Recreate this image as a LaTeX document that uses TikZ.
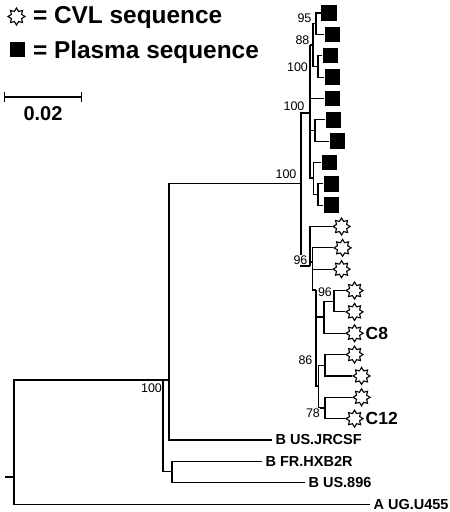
\documentclass[tikz,border=0pt]{standalone}
\usepackage{fontspec}
\setmainfont{Liberation Sans}
\usetikzlibrary{shapes.geometric}

\begin{document}
\begin{tikzpicture}[x=1pt, y=-1pt, line width=1.1pt,
	plasma/.style={fill=black, minimum size=15.5pt, inner sep=0pt, anchor=west},
	cvl/.style={star, star points=8, star point ratio=1.55, draw=black, fill=white, line width=1.1pt, minimum size=17pt, inner sep=0pt, anchor=west},
	taxon/.style={anchor=west, inner sep=3pt, font=\fontsize{14.5}{14.5}\selectfont\bfseries},
	clone/.style={anchor=west, inner sep=1pt, font=\fontsize{17.5}{17.5}\selectfont\bfseries},
	key/.style={anchor=base west, inner sep=0pt, font=\fontsize{24.4}{24.4}\selectfont\bfseries},
	boot/.style={anchor=east, inner sep=0.5pt, fill=white, font=\fontsize{12.5}{12.5}\selectfont}]
	\useasboundingbox (0,0) rectangle (450,512);

	% key and scale
	\node[cvl, anchor=center] (keystar) at (16.5, 16.5) {};
	\node[plasma, anchor=center] (keysquare) at (17.5, 49.5) {};
	\node[key] (keycvl) at (32.5, 23.3) {= CVL sequence};
	\node[key] (keyplasma) at (32.5, 58.3) {= Plasma sequence};
	\coordinate (sbl) at (4, 97);
	\coordinate (sbr) at (82, 97);
	\draw[|-|, line width=1.3pt] (sbl) -- (sbr);
	\node[font=\fontsize{20}{20}\selectfont\bfseries] (sblab) at (43, 113.5) {0.02};

	% plasma sequences
	\node[plasma] (p1)  at (320.5, 13.0)  {};
	\node[plasma] (p2)  at (324, 34.35)  {};
	\node[plasma] (p3)  at (322, 55.7)   {};
	\node[plasma] (p4)  at (324, 77.05)  {};
	\node[plasma] (p5)  at (324, 98.4)   {};
	\node[plasma] (p6)  at (325, 119.75) {};
	\node[plasma] (p7)  at (329, 141.1)  {};
	\node[plasma] (p8)  at (321, 162.45) {};
	\node[plasma] (p9)  at (323, 183.8)  {};
	\node[plasma] (p10) at (323, 205.15) {};

	% CVL sequences
	\node[cvl] (c11) at (332, 226.5)  {};
	\node[cvl] (c12) at (333, 247.85) {};
	\node[cvl] (c13) at (332, 269.2)  {};
	\node[cvl] (c14) at (345, 290.55) {};
	\node[cvl] (c15) at (345, 311.9)  {};
	\node[cvl] (c16) at (345, 333.25) {};
	\node[cvl] (c17) at (345, 354.6)  {};
	\node[cvl] (c18) at (352, 375.95) {};
	\node[cvl] (c19) at (352, 397.3)  {};
	\node[cvl] (c20) at (345, 418.65) {};
	\node[clone] (c8)  at (c16.east) {C8};
	\node[clone] (c12lab) at (c20.east) {C12};

	% reference strains
	\node[taxon] (jrcsf) at (272, 440)    {B US.JRCSF};
	\node[taxon] (hxb)   at (262, 461.35) {B FR.HXB2R};
	\node[taxon] (us896) at (305, 482.7)  {B US.896};
	\node[taxon] (ug)    at (370, 504.05) {A UG.U455};

	% internal nodes
	\coordinate (stub) at (5, 477);
	\coordinate (root) at (14, 477);
	\coordinate (n1)   at (163, 380);
	\coordinate (n2)   at (169, 380);
	\coordinate (n3)   at (172, 471.5);
	\coordinate (n4)   at (301, 183.5);
	\coordinate (pl)   at (310, 113);
	\coordinate (n88)  at (313, 45);
	\coordinate (n95)  at (316, 23.7);
	\coordinate (n100) at (318, 66.4);
	\coordinate (n67)  at (315, 130.4);
	\coordinate (n810) at (313.5, 178);
	\coordinate (n910) at (318, 194.5);
	\coordinate (cv)   at (310, 266);
	\coordinate (cv2)  at (312.5, 262);
	\coordinate (cv3)  at (316, 290);
	\coordinate (cv4)  at (324, 317);
	\coordinate (cv96) at (334, 301.2);
	\coordinate (cv86) at (318.5, 386);
	\coordinate (cv17) at (325, 365.3);
	\coordinate (cv78) at (325, 408);

	% branches
	\draw (stub) -- (root);
	\draw (root) |- (n1);
	\draw (root) |- (ug.west);
	\draw (n1) |- (n2);
	\draw (n1) |- (n3);
	\draw (n3) |- (hxb.west);
	\draw (n3) |- (us896.west);
	\draw (n2) |- (n4);
	\draw (n2) |- (jrcsf.west);
	\draw (n4) |- (pl);
	\draw (n4) |- (cv);
	\draw (pl) |- (n88);
	\draw (pl) |- (p5.west);
	\draw (pl) |- (n67);
	\draw (pl) |- (n810);
	\draw (n88) |- (n95);
	\draw (n88) |- (n100);
	\draw (n95) |- (p1.west);
	\draw (n95) |- (p2.west);
	\draw (n100) |- (p3.west);
	\draw (n100) |- (p4.west);
	\draw (n67) |- (p6.west);
	\draw (n67) |- (p7.west);
	\draw (n810) |- (p8.west);
	\draw (n810) |- (n910);
	\draw (n910) |- (p9.west);
	\draw (n910) |- (p10.west);
	\draw (cv) |- (c11.west);
	\draw (cv) |- (cv2);
	\draw (cv2) |- (c12.west);
	\draw (cv2) |- (c13.west);
	\draw (cv2) |- (cv3);
	\draw (cv3) |- (cv4);
	\draw (cv3) |- (cv86);
	\draw (cv4) |- (cv96);
	\draw (cv4) |- (c16.west);
	\draw (cv96) |- (c14.west);
	\draw (cv96) |- (c15.west);
	\draw (cv86) |- (cv17);
	\draw (cv86) |- (cv78);
	\draw (cv17) |- (c17.west);
	\draw (cv17) |- (c18.west);
	\draw (cv78) |- (c19.west);
	\draw (cv78) |- (c20.west);

	% bootstrap values
	\node[boot] (b95)   at (312.5, 18)  {95};
	\node[boot] (b88)   at (310.5, 40)  {88};
	\node[boot] (b100a) at (309, 67)    {100};
	\node[boot] (b100b) at (305.5, 106) {100};
	\node[boot] (b100c) at (297.5, 174) {100};
	\node[boot] (b96a)  at (308.5, 260) {96};
	\node[boot] (b96b)  at (333, 292.5) {96};
	\node[boot] (b86)   at (313.5, 360) {86};
	\node[boot] (b78)   at (321, 413)   {78};
	\node[boot] (b100d) at (163, 388.5) {100};
\end{tikzpicture}
\end{document}
